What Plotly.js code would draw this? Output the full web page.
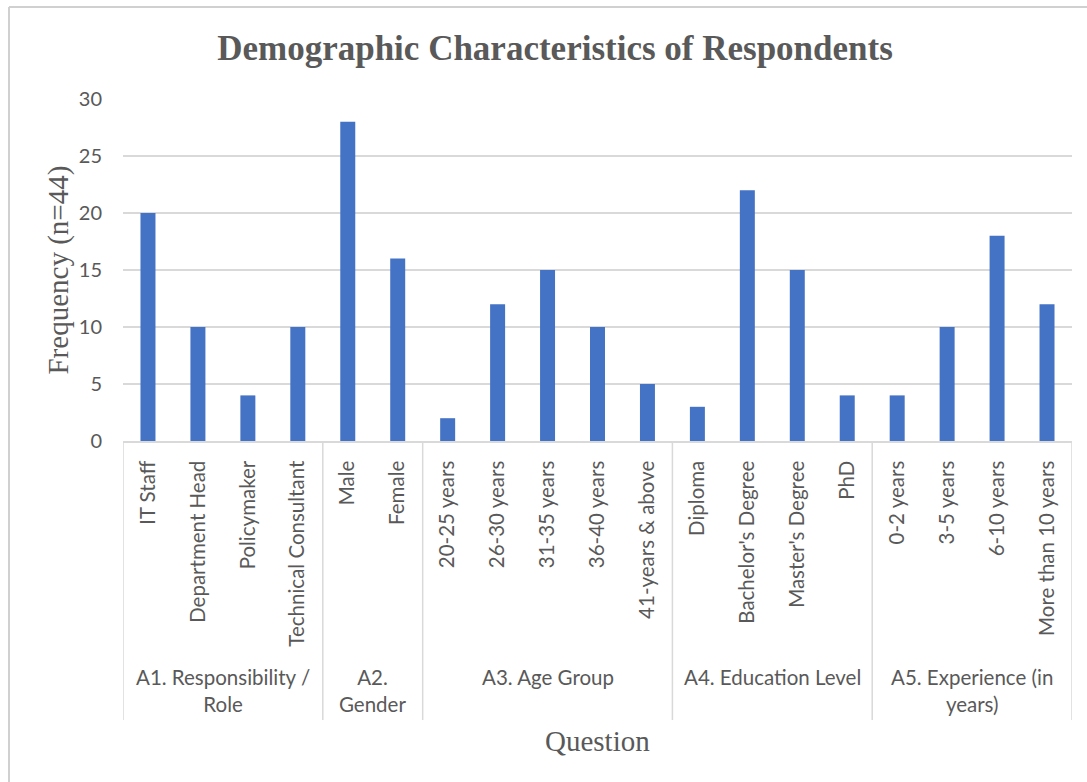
<!DOCTYPE html>
<html>
<head>
<meta charset="utf-8">
<script src="https://cdn.plot.ly/plotly-3.0.1.min.js"></script>
<style>
  html, body { margin: 0; padding: 0; background: #ffffff; }
  #chart { width: 1087px; height: 782px; }
</style>
</head>
<body>
<div id="chart"></div>
<script>
// Survey questions and the answer options under each one
const groups = [
  "A1. Responsibility /<br>Role",
  "A2.<br>Gender",
  "A3. Age Group",
  "A4. Education Level",
  "A5. Experience (in<br>years)"
];
const groupOptions = [
  ["IT Staff", "Department Head", "Policymaker", "Technical Consultant"],
  ["Male", "Female"],
  ["20-25 years", "26-30 years", "31-35 years", "36-40 years", "41-years & above"],
  ["Diploma", "Bachelor's Degree", "Master's Degree", "PhD"],
  ["0-2 years", "3-5 years", "6-10 years", "More than 10 years"]
];
// Number of respondents choosing each option (n = 44 per question)
const frequencies = [
  [20, 10, 4, 10],
  [28, 16],
  [2, 12, 15, 10, 5],
  [3, 22, 15, 4],
  [4, 10, 18, 12]
];

const categories = groupOptions.flat();
const values = frequencies.flat();

const textGray = "#595959";
const lineGray = "#D9D9D9";
const labelFont = "Lato, 'Open Sans', sans-serif";
const serifFont = "'Liberation Serif', 'DejaVu Serif', serif";

// Group dividers and group captions below the category labels
const shapes = [];
const annotations = [];
let start = 0;
shapes.push({
  type: "line", xref: "x", yref: "paper",
  x0: -0.5, x1: -0.5, y0: 0, y1: -0.816,
  line: { color: lineGray, width: 1.5 }
});
groups.forEach((g, i) => {
  const n = groupOptions[i].length;
  const end = start + n;
  shapes.push({
    type: "line", xref: "x", yref: "paper",
    x0: end - 0.5, x1: end - 0.5, y0: 0, y1: -0.816,
    line: { color: lineGray, width: 1.5 }
  });
  annotations.push({
    xref: "x", yref: "paper",
    x: (start + end - 1) / 2, y: -0.648,
    xanchor: "center", yanchor: "top",
    text: g, showarrow: false, align: "center",
    font: { family: labelFont, size: 20.5, color: textGray }
  });
  start = end;
});

// Axis captions
annotations.push({
  xref: "paper", yref: "paper", x: 0.5, y: -0.877,
  xanchor: "center", yanchor: "middle",
  text: "Question", showarrow: false,
  font: { family: serifFont, size: 29, color: textGray }
});
annotations.push({
  xref: "paper", yref: "paper", x: -0.069, y: 0.5,
  xanchor: "center", yanchor: "middle", textangle: -90,
  text: "Frequency (n=44)", showarrow: false,
  font: { family: serifFont, size: 29, color: textGray }
});

// Chart-area border (top and left edges)
shapes.push({
  type: "line", xref: "paper", yref: "paper",
  x0: (9 - 123) / 949, x1: (1090 - 123) / 949,
  y0: 1 + (99 - 7) / 342, y1: 1 + (99 - 7) / 342,
  line: { color: "#D0D0D0", width: 2 }
});
shapes.push({
  type: "line", xref: "paper", yref: "paper",
  x0: (9 - 123) / 949, x1: (9 - 123) / 949,
  y0: 1 + (99 - 7) / 342, y1: -(790 - 441) / 342,
  line: { color: "#D0D0D0", width: 2 }
});

const trace = {
  type: "bar",
  x: categories,
  y: values,
  width: 0.3,
  marker: { color: "#4472C4" },
  hoverinfo: "x+y"
};

const layout = {
  width: 1087,
  height: 782,
  margin: { l: 123, r: 15, t: 99, b: 341 },
  paper_bgcolor: "#ffffff",
  plot_bgcolor: "#ffffff",
  showlegend: false,
  title: {
    text: "<b>Demographic Characteristics of Respondents</b>",
    x: 555 / 1087, xanchor: "center",
    y: 1 - 48 / 782, yanchor: "middle",
    font: { family: serifFont, size: 35, color: textGray }
  },
  xaxis: {
    type: "category",
    categoryorder: "array",
    categoryarray: categories,
    range: [-0.5, categories.length - 0.5],
    tickangle: -90,
    ticks: "",
    ticklabelstandoff: 10,
    showline: true,
    linecolor: lineGray,
    linewidth: 1.5,
    showgrid: false,
    zeroline: false,
    tickfont: { family: labelFont, size: 20.5, color: textGray }
  },
  yaxis: {
    range: [0, 30],
    dtick: 5,
    tick0: 0,
    ticks: "",
    ticklabelstandoff: 20,
    showline: false,
    showgrid: true,
    gridcolor: lineGray,
    gridwidth: 1.5,
    zeroline: false,
    tickfont: { family: labelFont, size: 20, color: textGray }
  },
  shapes: shapes,
  annotations: annotations
};

Plotly.newPlot("chart", [trace], layout, { displayModeBar: false, staticPlot: true });
</script>
</body>
</html>
